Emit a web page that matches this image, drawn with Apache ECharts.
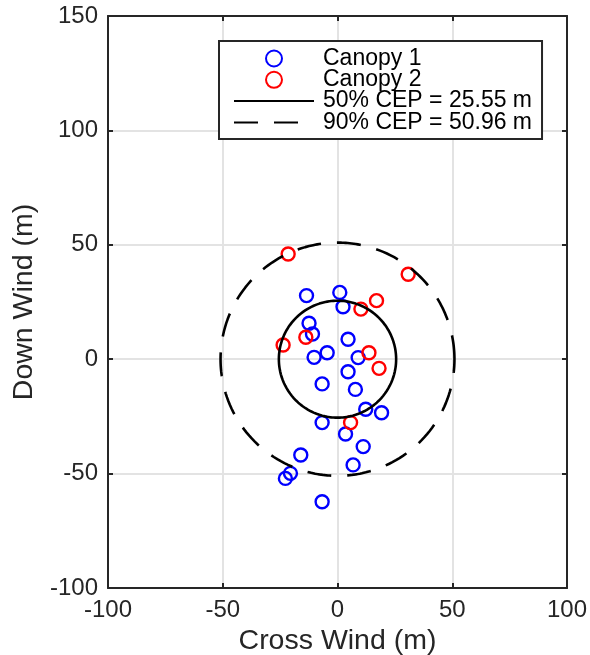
<!DOCTYPE html>
<html>
<head>
<meta charset="utf-8">
<script src="https://cdn.jsdelivr.net/npm/echarts@6/dist/echarts.min.js"></script>
<style>
  html, body { margin: 0; padding: 0; background: #fff; }
  #chart { width: 590px; height: 655px; }
</style>
</head>
<body>
<div id="chart"></div>
<script>
// ---- data ----
const canopy1X = [-13.5, 1.0, 2.4, -12.4, -10.9, 4.6, -4.5, -10.2, 9.0, 4.6, -6.7, 7.8, 12.3, 19.2, -6.7, 3.5, 11.2, -16.0, 6.8, -20.5, -22.7, -6.7];
const canopy1Y = [27.8, 29.2, 22.9, 15.7, 11.0, 8.7, 2.8, 0.8, 0.7, -5.5, -10.8, -13.2, -21.9, -23.4, -27.7, -32.7, -38.2, -41.9, -46.2, -49.9, -52.1, -62.3];
const canopy2X = [-21.5, 30.8, 10.2, 17.0, -13.8, -23.7, 13.7, 18.1, 5.7];
const canopy2Y = [46.0, 37.1, 21.9, 25.6, 9.6, 6.2, 2.8, -4.0, -27.7];
const cepNames = ['50% CEP = 25.55 m', '90% CEP = 50.96 m'];
const cepRadii = [25.55, 50.96];
const seriesNames = ['Canopy 1', 'Canopy 2'];
const xTicks = [-100, -50, 0, 50, 100];
const yTicks = [-100, -50, 0, 50, 100, 150];
const xAxisTitle = 'Cross Wind (m)';
const yAxisTitle = 'Down Wind (m)';

function pairs(xs, ys) { return xs.map((x, i) => [x, ys[i]]); }
function circle(r) {
  const pts = [];
  for (let a = 0; a <= 360; a += 1) {
    const t = a * Math.PI / 180;
    pts.push([r * Math.cos(t), r * Math.sin(t)]);
  }
  return pts;
}

const FONT = 'Liberation Sans';
const AX = '#262626';
const GRID = '#e3e3e3';

const baseAxis = {
  type: 'value',
  axisLine: { show: true, onZero: false, lineStyle: { color: AX, width: 2 } },
  axisTick: { show: true, inside: true, length: 5, lineStyle: { color: AX, width: 2 } },
  splitLine: { show: false },
  axisLabel: { show: false }
};

const hiddenSymbol = { color: 'rgba(0,0,0,0)', borderWidth: 0, opacity: 0 };

const chart = echarts.init(document.getElementById('chart'), null, { renderer: 'canvas' });
chart.setOption({
  animation: false,
  backgroundColor: '#fff',
  grid: { left: 108, right: 23, top: 16, bottom: 67, containLabel: false, outerBoundsMode: 'none' },
  xAxis: [
    Object.assign({}, baseAxis, {
      position: 'bottom',
      min: xTicks[0], max: xTicks[xTicks.length - 1], interval: 50,
      splitLine: { show: true, lineStyle: { color: GRID, width: 2 } },
      axisLabel: { show: true, color: AX, fontFamily: FONT, fontSize: 24, margin: 10 },
      name: xAxisTitle, nameLocation: 'middle', nameGap: 39,
      nameTextStyle: { color: AX, fontFamily: FONT, fontSize: 28.5 }
    }),
    Object.assign({}, baseAxis, {
      position: 'top',
      min: xTicks[0], max: xTicks[xTicks.length - 1], interval: 50
    })
  ],
  yAxis: [
    Object.assign({}, baseAxis, {
      position: 'left',
      min: yTicks[0], max: yTicks[yTicks.length - 1], interval: 50,
      splitLine: { show: true, lineStyle: { color: GRID, width: 2 } },
      axisLabel: { show: true, color: AX, fontFamily: FONT, fontSize: 24, margin: 10 },
      name: yAxisTitle, nameLocation: 'middle', nameGap: 66,
      nameTextStyle: { color: AX, fontFamily: FONT, fontSize: 28.5 }
    }),
    Object.assign({}, baseAxis, {
      position: 'right',
      min: yTicks[0], max: yTicks[yTicks.length - 1], interval: 50
    })
  ],
  legend: {
    orient: 'vertical',
    left: 219, top: 41,
    backgroundColor: '#fff',
    borderColor: AX, borderWidth: 2,
    padding: [6, 10, 5, 14],
    itemGap: -1.7,
    itemWidth: 80, itemHeight: 16,
    textStyle: { color: '#000', fontFamily: FONT, fontSize: 23, lineHeight: 21.3, padding: [0, 0, 0, 4] },
    data: [
      seriesNames[0],
      seriesNames[1],
      { name: cepNames[0], itemStyle: hiddenSymbol },
      { name: cepNames[1], itemStyle: hiddenSymbol }
    ]
  },
  series: [
    {
      name: seriesNames[0], type: 'scatter', data: pairs(canopy1X, canopy1Y),
      symbol: 'circle', symbolSize: 13, z: 2,
      itemStyle: { color: 'rgba(0,0,0,0)', borderColor: '#0000ff', borderWidth: 2.4, opacity: 1 }
    },
    {
      name: seriesNames[1], type: 'scatter', data: pairs(canopy2X, canopy2Y),
      symbol: 'circle', symbolSize: 13, z: 3,
      itemStyle: { color: 'rgba(0,0,0,0)', borderColor: '#ff0000', borderWidth: 2.4, opacity: 1 }
    },
    {
      name: cepNames[0], type: 'line', data: circle(cepRadii[0]),
      symbol: 'none', z: 4, silent: true,
      lineStyle: { color: '#000', width: 2.6, type: 'solid' },
      itemStyle: { color: '#000' }
    },
    {
      name: cepNames[1], type: 'line', data: circle(cepRadii[1]),
      symbol: 'none', z: 4, silent: true,
      lineStyle: { color: '#000', width: 2.6, type: [24, 16] },
      itemStyle: { color: '#000' }
    }
  ]
});
</script>
</body>
</html>
